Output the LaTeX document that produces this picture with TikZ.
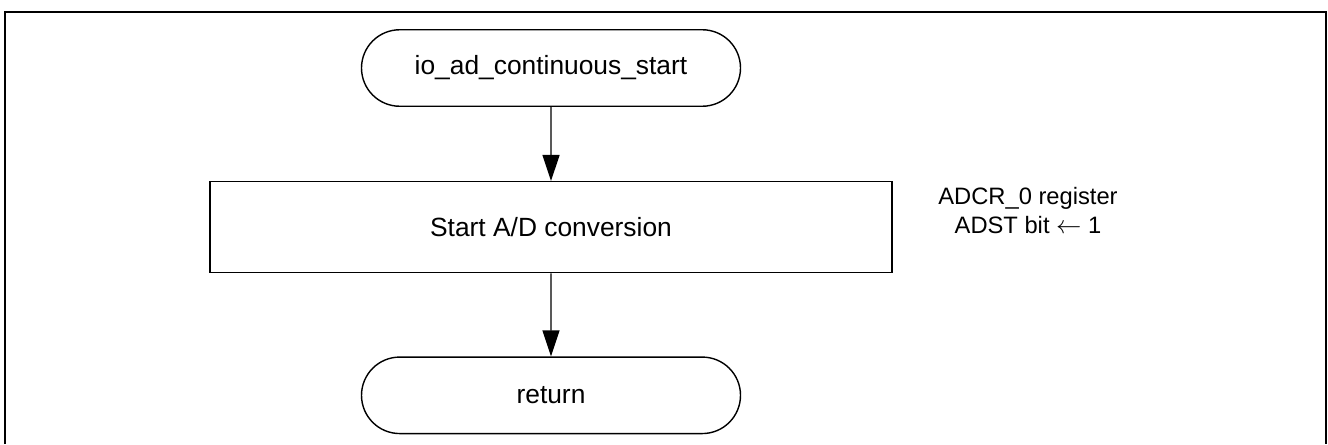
\documentclass[tikz,border=0pt]{standalone}
\usepackage{fontspec}
\setmainfont{Liberation Sans}
\usetikzlibrary{arrows.meta,shapes.misc,positioning}
\definecolor{LineClr}{rgb}{0,0,0}

\tikzset{
  terminal/.style={draw=LineClr,line width=0.8pt,rounded rectangle,
    minimum width=7.58cm,minimum height=1.53cm,inner sep=0pt,
    font=\fontsize{15}{18}\selectfont},
  process/.style={draw=LineClr,line width=0.8pt,rectangle,
    minimum width=13.64cm,minimum height=1.82cm,inner sep=0pt,
    font=\fontsize{15}{18}\selectfont},
  note/.style={align=center,inner sep=0pt,font=\fontsize{13.5}{17}\selectfont},
  flow/.style={line width=0.8pt,-{Triangle[width=0.34cm,length=0.52cm]}}
}

\begin{document}
\begin{tikzpicture}
\useasboundingbox (0,0) rectangle (26.56,8.88);

% Frame, open at the bottom edge.
\draw[line width=1.1pt] (0.1,0) -- (0.1,8.64) -- (26.52,8.64) -- (26.52,0);

\node[terminal] (start) at (11.02,7.52) {io\_ad\_continuous\_start};
\node[process,below=1.48cm of start] (adst) {Start A/D conversion};
\node[terminal,below=1.66cm of adst] (ret) {return};

\node[note] (reg) at (20.56,4.67) {ADCR\_0 register\\ADST bit $\leftarrow$ 1};

\draw[flow] (start) -- (adst);
\draw[flow] (adst) -- (ret);

\end{tikzpicture}
\end{document}
